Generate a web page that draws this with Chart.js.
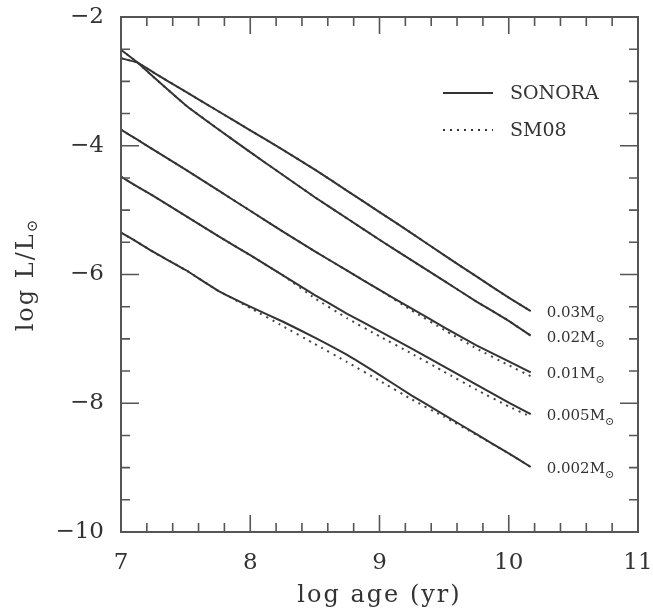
<!DOCTYPE html>
<html>
<head>
<meta charset="utf-8">
<script src="https://cdn.jsdelivr.net/npm/chart.js@4.4.1/dist/chart.umd.min.js"></script>
<style>
  html, body { margin: 0; padding: 0; background: #fff; }
  #wrap { width: 653px; height: 614px; }
</style>
</head>
<body>
<div id="wrap"><canvas id="c" width="653" height="614"></canvas></div>
<script>
// log age (yr) sample points shared by all curves
const ages = [7.0, 7.13, 7.25, 7.5, 7.75, 8.0, 8.25, 8.5, 8.75, 9.0, 9.25, 9.5, 9.75, 10.0, 10.17];

// log L/Lsun, SONORA models
const sonora003 = [-2.64, -2.71, -2.86, -3.16, -3.46, -3.76, -4.06, -4.37, -4.70, -5.03, -5.36, -5.70, -6.03, -6.36, -6.57];
const sonora002 = [-2.51, -2.71, -2.93, -3.37, -3.74, -4.10, -4.45, -4.80, -5.13, -5.46, -5.78, -6.10, -6.42, -6.72, -6.95];
const sonora001 = [-3.75, -3.91, -4.06, -4.37, -4.69, -5.01, -5.33, -5.64, -5.94, -6.24, -6.53, -6.82, -7.10, -7.35, -7.52];
const sonora0005 = [-4.48, -4.64, -4.78, -5.09, -5.40, -5.70, -6.01, -6.32, -6.61, -6.88, -7.15, -7.43, -7.71, -7.99, -8.17];
const sonora0002 = [-5.35, -5.50, -5.65, -5.93, -6.25, -6.50, -6.73, -6.98, -7.25, -7.56, -7.88, -8.18, -8.48, -8.78, -8.99];

// log L/Lsun, SM08 models
const sm003 = [-2.64, -2.71, -2.86, -3.16, -3.46, -3.76, -4.06, -4.37, -4.70, -5.03, -5.36, -5.70, -6.03, -6.36, -6.57];
const sm002 = [-2.51, -2.71, -2.93, -3.37, -3.74, -4.10, -4.45, -4.80, -5.13, -5.46, -5.78, -6.10, -6.42, -6.72, -6.95];
const sm001 = [-3.75, -3.91, -4.06, -4.37, -4.69, -5.01, -5.33, -5.64, -5.94, -6.24, -6.56, -6.86, -7.15, -7.41, -7.58];
const sm0005 = [-4.48, -4.64, -4.78, -5.09, -5.40, -5.70, -6.01, -6.37, -6.68, -6.96, -7.23, -7.51, -7.79, -8.05, -8.21];
const sm0002 = [-5.35, -5.50, -5.65, -5.93, -6.25, -6.52, -6.80, -7.08, -7.36, -7.65, -7.94, -8.21, -8.49, -8.78, -8.99];

const massLabels = ['0.03', '0.02', '0.01', '0.005', '0.002'];
const sonoraSeries = [sonora003, sonora002, sonora001, sonora0005, sonora0002];
const sm08Series = [sm003, sm002, sm001, sm0005, sm0002];

const xTicks = [7, 8, 9, 10, 11];
const yTicks = [-10, -8, -6, -4, -2];

const INK = '#333';
const FRAME = '#555';
const SERIF = '"DejaVu Serif", "Liberation Serif", serif';

const pts = ys => ys.map((y, i) => ({ x: ages[i], y }));

const datasets = [];
sonoraSeries.forEach((s, i) => datasets.push({
  label: 'SONORA ' + massLabels[i], data: pts(s),
  borderColor: INK, borderWidth: 2, pointRadius: 0, tension: 0.1
}));
sm08Series.forEach((s, i) => datasets.push({
  label: 'SM08 ' + massLabels[i], data: pts(s),
  borderColor: '#444', borderWidth: 2, borderDash: [2, 5], pointRadius: 0, tension: 0.1
}));

// frame, inward ticks, legend, curve labels and axis titles
const decorations = {
  id: 'decorations',
  afterDraw(chart) {
    const { ctx, chartArea: a, scales: { x, y } } = chart;
    ctx.save();
    ctx.strokeStyle = FRAME;
    ctx.lineWidth = 2;
    ctx.strokeRect(a.left, a.top, a.right - a.left, a.bottom - a.top);

    ctx.lineWidth = 1.6;
    ctx.beginPath();
    for (let k = 0; k <= 20; k++) {
      const v = xTicks[0] + k * 0.2;
      const len = k % 5 === 0 ? 17 : 9;
      const px = x.getPixelForValue(v);
      ctx.moveTo(px, a.bottom); ctx.lineTo(px, a.bottom - len);
      ctx.moveTo(px, a.top); ctx.lineTo(px, a.top + len);
    }
    for (let k = 0; k <= 16; k++) {
      const v = yTicks[0] + k * 0.5;
      const len = k % 4 === 0 ? 18 : 9;
      const py = y.getPixelForValue(v);
      ctx.moveTo(a.left, py); ctx.lineTo(a.left + len, py);
      ctx.moveTo(a.right, py); ctx.lineTo(a.right - len, py);
    }
    ctx.stroke();

    // legend
    const lx = a.right - 195, tx = a.right - 128;
    ctx.strokeStyle = INK;
    ctx.lineWidth = 2;
    ctx.beginPath(); ctx.moveTo(lx, a.top + 76); ctx.lineTo(lx + 50, a.top + 76); ctx.stroke();
    ctx.setLineDash([2, 5]);
    ctx.beginPath(); ctx.moveTo(lx, a.top + 113); ctx.lineTo(lx + 50, a.top + 113); ctx.stroke();
    ctx.setLineDash([]);
    ctx.fillStyle = INK;
    ctx.font = '19px ' + SERIF;
    ctx.textBaseline = 'middle';
    ctx.textAlign = 'left';
    ctx.fillText('SONORA', tx, a.top + 77);
    ctx.fillText('SM08', tx, a.top + 114);

    // mass labels at curve ends
    sonoraSeries.forEach((s, i) => {
      const px = x.getPixelForValue(ages[ages.length - 1]) + 16;
      const py = y.getPixelForValue(s[s.length - 1]) + 2;
      ctx.font = '15px ' + SERIF;
      const t = massLabels[i] + 'M';
      ctx.fillText(t, px, py);
      const w = ctx.measureText(t).width;
      ctx.font = '11px ' + SERIF;
      ctx.fillText('\u2299', px + w, py + 6);
    });

    // y axis title
    ctx.save();
    ctx.translate(27, (a.top + a.bottom) / 2);
    ctx.rotate(-Math.PI / 2);
    ctx.font = '24px ' + SERIF;
    ctx.letterSpacing = '2px';
    const main = 'log L/L';
    const mw = ctx.measureText(main).width;
    ctx.font = '15px ' + SERIF;
    const sw = ctx.measureText('\u2299').width;
    const x0 = -(mw + sw) / 2;
    ctx.font = '24px ' + SERIF;
    ctx.fillText(main, x0, 0);
    ctx.font = '15px ' + SERIF;
    ctx.fillText('\u2299', x0 + mw, 6);
    ctx.restore();

    // x axis title
    ctx.font = '24px ' + SERIF;
    ctx.letterSpacing = '2px';
    ctx.textAlign = 'center';
    ctx.textBaseline = 'alphabetic';
    ctx.fillText('log age (yr)', (a.left + a.right) / 2, 602);
    ctx.restore();
  }
};

new Chart(document.getElementById('c'), {
  type: 'line',
  data: { datasets },
  options: {
    responsive: false,
    animation: false,
    layout: { padding: { left: 0, right: 15, top: 17, bottom: 0 } },
    plugins: { legend: { display: false }, tooltip: { enabled: false } },
    scales: {
      x: {
        type: 'linear', min: 7, max: 11,
        afterBuildTicks: s => { s.ticks = xTicks.map(v => ({ value: v })); },
        ticks: { font: { family: SERIF, size: 23 }, color: INK, padding: 17 },
        grid: { display: false, drawTicks: false },
        border: { display: false },
        afterFit: s => { s.height = 82; s.paddingLeft = 0; s.paddingRight = 0; }
      },
      y: {
        type: 'linear', min: -10, max: -2,
        afterBuildTicks: s => { s.ticks = yTicks.map(v => ({ value: v })); },
        ticks: {
          font: { family: SERIF, size: 23 }, color: INK, padding: 17,
          callback: v => '\u2212' + Math.abs(v)
        },
        grid: { display: false, drawTicks: false },
        border: { display: false },
        afterFit: s => { s.width = 121; s.paddingTop = 0; s.paddingBottom = 0; }
      }
    }
  },
  plugins: [decorations]
});
</script>
</body>
</html>
